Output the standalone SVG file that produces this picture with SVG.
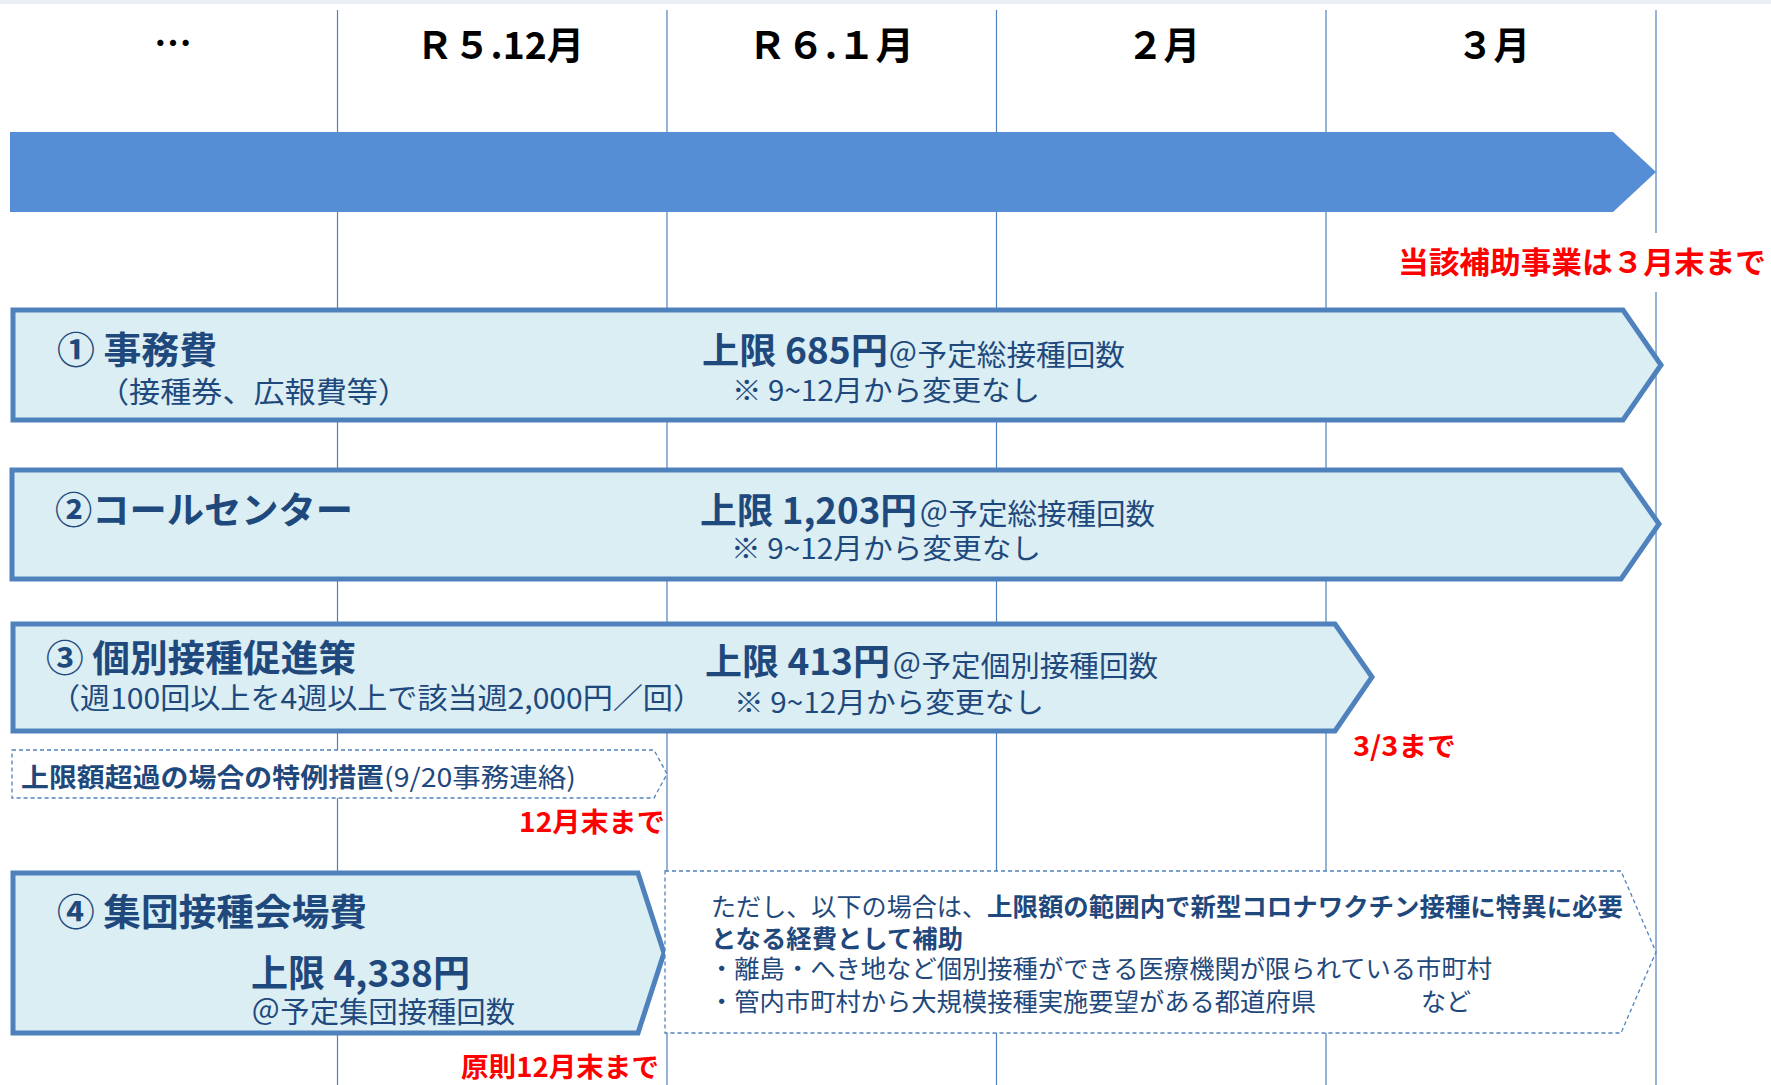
<svg xmlns="http://www.w3.org/2000/svg" width="1771" height="1085" viewBox="0 0 1771 1085">
<style>
.b{font-family:"Noto Sans CJK JP","Noto Sans",sans-serif;font-weight:700}
.r{font-family:"Noto Sans CJK JP","Noto Sans",sans-serif;font-weight:400}
.t{fill:#1F497D}
.red{fill:#FF0000}
.k{fill:#000000}
.box{fill:#DAEEF3;stroke:#4F81BD;stroke-width:5;stroke-linejoin:miter}
.dash{fill:#FFFFFF;stroke:#4F81BD;stroke-width:1.3;stroke-dasharray:4 3}
.grid{stroke:#4F81BD;stroke-width:1.2}
</style>
<rect x="0" y="0" width="1771" height="1085" fill="#FFFFFF"/>
<rect x="0" y="0" width="1771" height="4" fill="#ECEEF6"/>
<g id="connectors">
<line class="grid" x1="337.5" y1="10" x2="337.5" y2="1085"/>
<line class="grid" x1="667" y1="10" x2="667" y2="1085"/>
<line class="grid" x1="996.5" y1="10" x2="996.5" y2="1085"/>
<line class="grid" x1="1326" y1="10" x2="1326" y2="1085"/>
<line class="grid" x1="1656" y1="10" x2="1656" y2="1085"/>
</g>
<g id="month-labels">
<text class="b k" x="173" y="57" font-size="38" text-anchor="middle">…</text>
<text class="b k" x="416" y="59" font-size="38" textLength="168" lengthAdjust="spacingAndGlyphs">Ｒ５.12月</text>
<text class="b k" x="748" y="59" font-size="38" textLength="166" lengthAdjust="spacingAndGlyphs">Ｒ６.１月</text>
<text class="b k" x="1127" y="59" font-size="38" textLength="73" lengthAdjust="spacingAndGlyphs">２月</text>
<text class="b k" x="1457" y="59" font-size="38" textLength="73" lengthAdjust="spacingAndGlyphs">３月</text>
</g>
<g id="timeline-arrow">
<polygon points="10,132 1613,132 1656,172 1613,212 10,212" fill="#558ED5"/>
</g>
<g id="end-note">
<rect x="1396" y="233" width="375" height="59" fill="#FFFFFF"/>
<text class="b red" x="1398" y="273" font-size="30" textLength="368" lengthAdjust="spacingAndGlyphs">当該補助事業は３月末まで</text>
</g>
<g id="node-1">
<polygon class="box" points="13,310 1623,310 1661,365 1623,420 13,420"/>
<text class="b t" x="57" y="364" font-size="37" textLength="160" lengthAdjust="spacingAndGlyphs">① 事務費</text>
<text class="r t" x="98" y="403" font-size="29" textLength="311" lengthAdjust="spacingAndGlyphs">（接種券、広報費等）</text>
<text class="b t" x="702" y="364" font-size="36" textLength="186" lengthAdjust="spacingAndGlyphs">上限 685円</text>
<text class="r t" x="888" y="366" font-size="29" textLength="237" lengthAdjust="spacingAndGlyphs">＠予定総接種回数</text>
<text class="r t" x="732" y="401" font-size="28" textLength="308" lengthAdjust="spacingAndGlyphs">※ 9~12月から変更なし</text>
</g>
<g id="node-2">
<polygon class="box" points="12,470 1621,470 1659,524 1621,579 12,579"/>
<text class="b t" x="55" y="524" font-size="37" textLength="298" lengthAdjust="spacingAndGlyphs">②コールセンター</text>
<text class="b t" x="700" y="524" font-size="36" textLength="217" lengthAdjust="spacingAndGlyphs">上限 1,203円</text>
<text class="r t" x="919" y="525" font-size="29" textLength="236" lengthAdjust="spacingAndGlyphs">＠予定総接種回数</text>
<text class="r t" x="731" y="559" font-size="28" textLength="310" lengthAdjust="spacingAndGlyphs">※ 9~12月から変更なし</text>
</g>
<g id="node-3">
<polygon class="box" points="13,624 1335,624 1372,677 1335,731 13,731"/>
<text class="b t" x="46" y="672" font-size="37" textLength="310" lengthAdjust="spacingAndGlyphs">③ 個別接種促進策</text>
<text class="r t" x="50" y="709" font-size="29" textLength="653" lengthAdjust="spacingAndGlyphs">（週100回以上を4週以上で該当週2,000円／回）</text>
<text class="b t" x="705" y="675" font-size="36" textLength="185" lengthAdjust="spacingAndGlyphs">上限 413円</text>
<text class="r t" x="892" y="677" font-size="29" textLength="266" lengthAdjust="spacingAndGlyphs">＠予定個別接種回数</text>
<text class="r t" x="734" y="713" font-size="28" textLength="310" lengthAdjust="spacingAndGlyphs">※ 9~12月から変更なし</text>
<text class="b red" x="1353" y="756" font-size="27" textLength="103" lengthAdjust="spacingAndGlyphs">3/3まで</text>
</g>
<g id="node-special">
<polygon class="dash" points="12,750 654,750 667,774 654,798 12,798"/>
<text class="b t" x="21" y="787" font-size="26" textLength="363" lengthAdjust="spacingAndGlyphs">上限額超過の場合の特例措置</text>
<text class="r t" x="384" y="787" font-size="26" textLength="192" lengthAdjust="spacingAndGlyphs">(9/20事務連絡)</text>
<text class="b red" x="519" y="832" font-size="27" textLength="146" lengthAdjust="spacingAndGlyphs">12月末まで</text>
</g>
<g id="node-4">
<polygon class="box" points="13,873 638,873 664,953 638,1033 13,1033"/>
<text class="b t" x="57" y="926" font-size="37" textLength="310" lengthAdjust="spacingAndGlyphs">④ 集団接種会場費</text>
<text class="b t" x="251" y="987" font-size="37" textLength="219" lengthAdjust="spacingAndGlyphs">上限 4,338円</text>
<text class="r t" x="251" y="1023" font-size="29" textLength="264" lengthAdjust="spacingAndGlyphs">＠予定集団接種回数</text>
<text class="b red" x="461" y="1077" font-size="27" textLength="198" lengthAdjust="spacingAndGlyphs">原則12月末まで</text>
</g>
<g id="node-exception">
<polygon class="dash" points="665,871 1621,871 1656,952 1621,1033 665,1033"/>
<text class="r t" x="711" y="916" font-size="25" textLength="276" lengthAdjust="spacingAndGlyphs">ただし、以下の場合は、</text>
<text class="b t" x="987" y="916" font-size="25" textLength="636" lengthAdjust="spacingAndGlyphs">上限額の範囲内で新型コロナワクチン接種に特異に必要</text>
<text class="b t" x="711" y="948" font-size="25" textLength="252" lengthAdjust="spacingAndGlyphs">となる経費として補助</text>
<text class="r t" x="709" y="978" font-size="25" textLength="783" lengthAdjust="spacingAndGlyphs">・離島・へき地など個別接種ができる医療機関が限られている市町村</text>
<text class="r t" x="709" y="1011" font-size="25" textLength="607" lengthAdjust="spacingAndGlyphs">・管内市町村から大規模接種実施要望がある都道府県</text>
<text class="r t" x="1421" y="1011" font-size="25">など</text>
</g>
</svg>
